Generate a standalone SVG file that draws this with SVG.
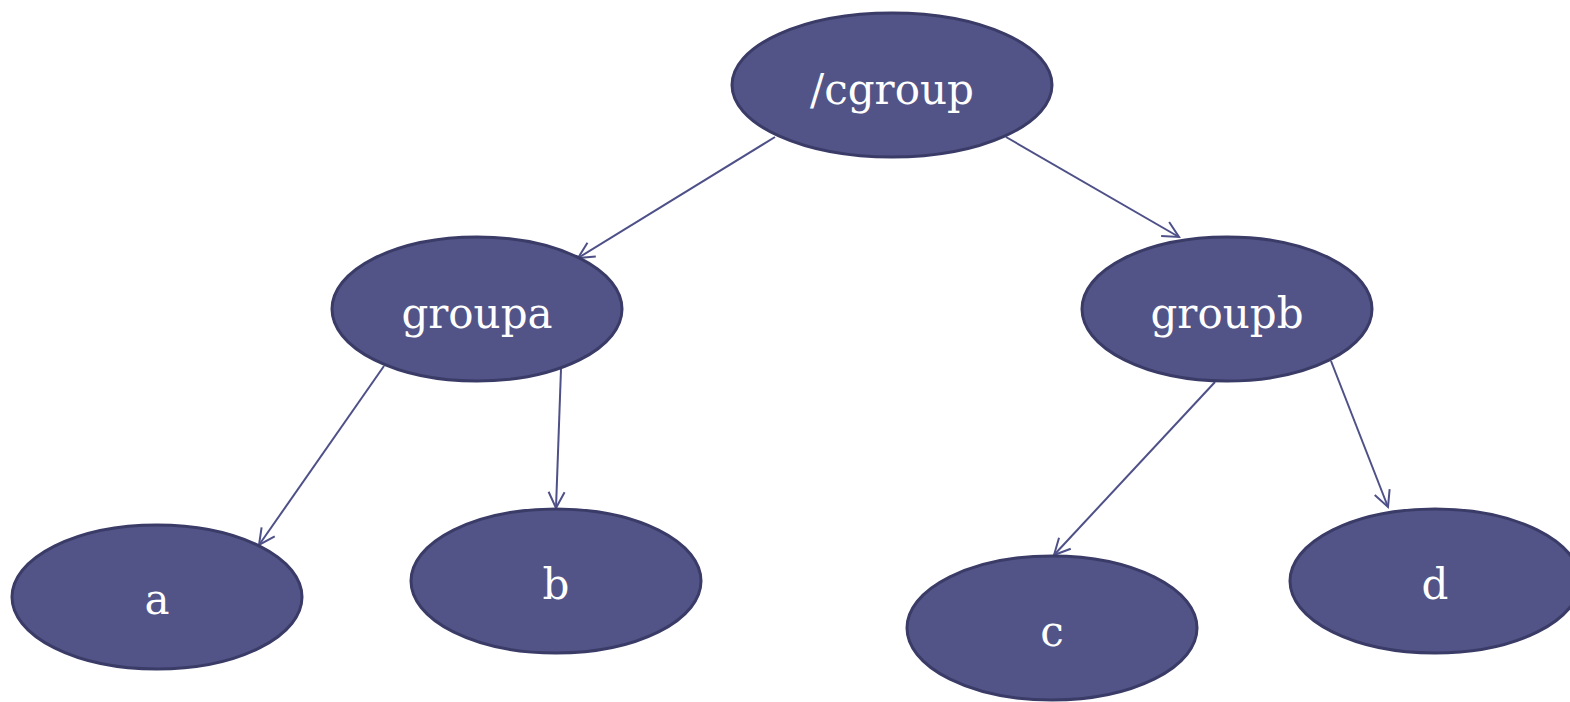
<svg xmlns="http://www.w3.org/2000/svg" width="1570" height="702" viewBox="0 0 1570 702">
<style>
.node ellipse{fill:#525487;stroke:#3a3b67;stroke-width:3}
.node text{fill:#ffffff;font-family:"DejaVu Serif","Liberation Serif",serif;font-size:42px;text-anchor:middle}
.edges line{stroke:#4e5088;stroke-width:2;fill:none}
</style>
<defs>
<marker id="arr" viewBox="0 0 20 20" refX="18" refY="10" markerWidth="20" markerHeight="20" markerUnits="userSpaceOnUse" orient="auto">
<path d="M2,2 L18,10 L2,18" fill="none" stroke="#4e5088" stroke-width="2"/>
</marker>
</defs>
<rect width="1570" height="702" fill="#ffffff"/>
<g class="edges">
<line x1="775" y1="137" x2="578" y2="258" marker-end="url(#arr)"/>
<line x1="1006" y1="137" x2="1179" y2="237" marker-end="url(#arr)"/>
<line x1="384" y1="366" x2="259" y2="545" marker-end="url(#arr)"/>
<line x1="561" y1="369" x2="556" y2="508" marker-end="url(#arr)"/>
<line x1="1215" y1="382" x2="1054" y2="555" marker-end="url(#arr)"/>
<line x1="1331" y1="361" x2="1388" y2="507" marker-end="url(#arr)"/>
</g>
<g id="cgroup" class="node"><ellipse cx="892" cy="85" rx="160" ry="72"/><text x="892" y="104">/cgroup</text></g>
<g id="groupa" class="node"><ellipse cx="477" cy="309" rx="145" ry="72"/><text x="477" y="328">groupa</text></g>
<g id="groupb" class="node"><ellipse cx="1227" cy="309" rx="145" ry="72"/><text x="1227" y="328">groupb</text></g>
<g id="a" class="node"><ellipse cx="157" cy="597" rx="145" ry="72"/><text x="157" y="614">a</text></g>
<g id="b" class="node"><ellipse cx="556" cy="581" rx="145" ry="72"/><text x="556" y="599">b</text></g>
<g id="c" class="node"><ellipse cx="1052" cy="628" rx="145" ry="72"/><text x="1052" y="646">c</text></g>
<g id="d" class="node"><ellipse cx="1435" cy="581" rx="145" ry="72"/><text x="1435" y="599">d</text></g>
</svg>
